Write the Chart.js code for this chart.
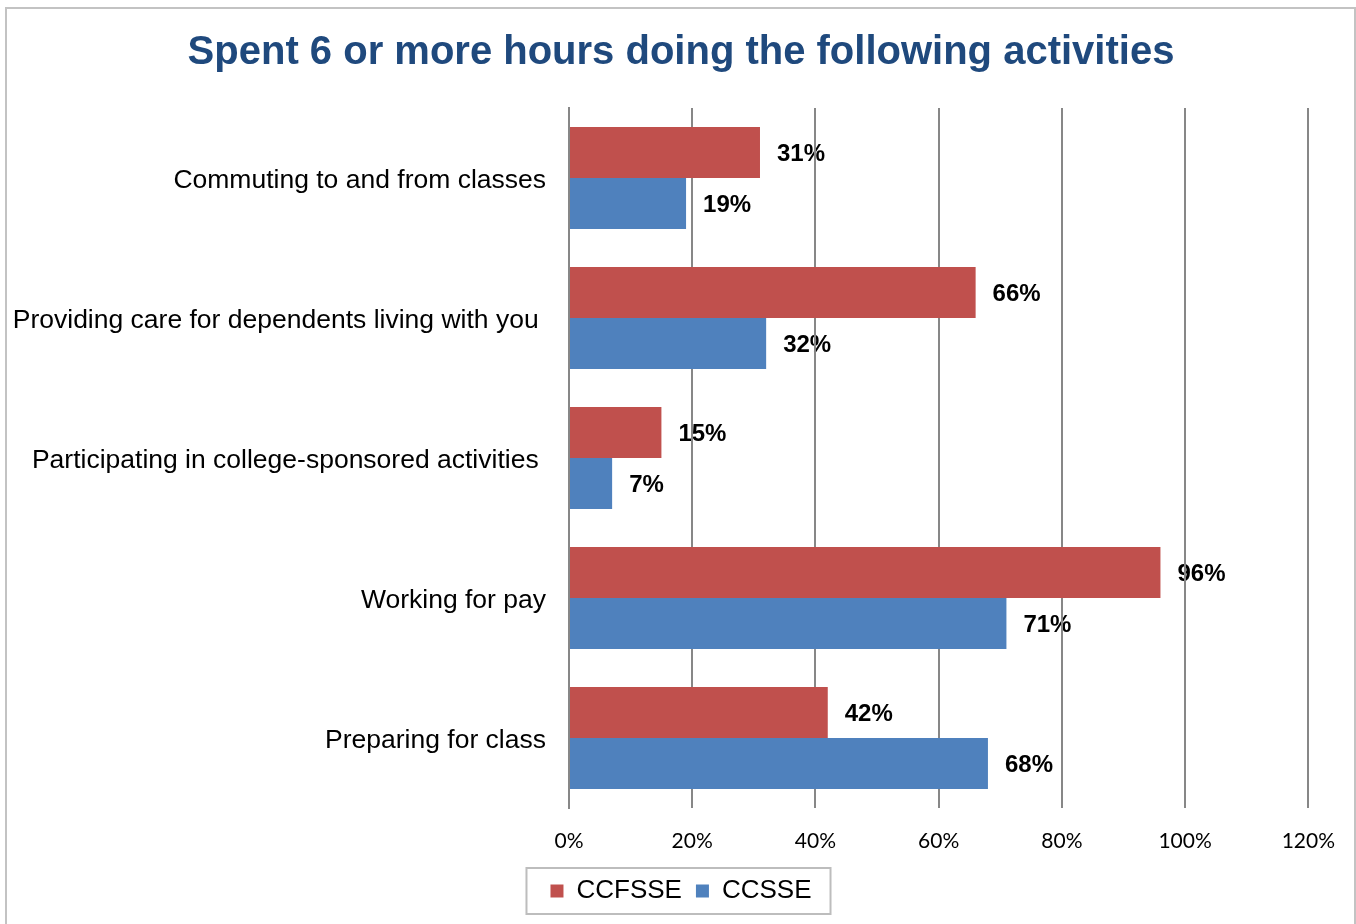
<!DOCTYPE html>
<html>
<head>
<meta charset="utf-8">
<title>Spent 6 or more hours doing the following activities</title>
<script src="https://cdn.jsdelivr.net/npm/chart.js@4/dist/chart.umd.min.js"></script>
<style>
  html, body { margin: 0; padding: 0; background: #fff; }
  #wrap { width: 1356px; height: 924px; position: relative; }
</style>
</head>
<body>
<div id="wrap"><canvas id="myChart" width="1356" height="924"></canvas></div>
<script>
// categories and series
const activities = [
  'Commuting to and from classes',
  'Providing care for dependents living with you ',
  'Participating in college-sponsored activities ',
  'Working for pay',
  'Preparing for class'
];
const ccfsse = [31, 66, 15, 96, 42];
const ccsse = [19, 32, 7, 71, 68];
const xTicks = [0, 20, 40, 60, 80, 100, 120];

const gridGray = '#878787';

// outer frame of the chart
const frame = {
  id: 'frame',
  beforeDraw(chart) {
    const ctx = chart.ctx;
    ctx.save();
    ctx.fillStyle = '#fff';
    ctx.fillRect(0, 0, chart.width, chart.height);
    ctx.strokeStyle = '#c3c3c3';
    ctx.lineWidth = 2;
    ctx.strokeRect(6, 8, 1349, 1000);
    ctx.restore();
  }
};

// percentage labels to the right of each bar (drawn under the grid lines)
const barLabels = {
  id: 'barLabels',
  beforeDraw(chart) {
    const ctx = chart.ctx;
    ctx.save();
    ctx.font = 'bold 24px "Liberation Sans", Arial, sans-serif';
    ctx.fillStyle = '#000';
    ctx.textAlign = 'left';
    ctx.textBaseline = 'middle';
    chart.data.datasets.forEach((ds, i) => {
      chart.getDatasetMeta(i).data.forEach((bar, j) => {
        ctx.fillText(ds.data[j] + '%', bar.x + 17, bar.y + 2);
      });
    });
    ctx.restore();
  }
};

// box around the legend
const legendBox = {
  id: 'legendBox',
  afterDraw(chart) {
    const hb = chart.legend.legendHitBoxes;
    if (!hb || !hb.length) return;
    const last = hb[hb.length - 1];
    const left = hb[0].left - 24;
    const right = last.left + last.width + 19;
    const cy = hb[0].top + hb[0].height / 2;
    const ctx = chart.ctx;
    ctx.save();
    ctx.strokeStyle = '#bdbdbd';
    ctx.lineWidth = 2;
    ctx.strokeRect(left, cy - 23, right - left, 46);
    ctx.restore();
  }
};

const data = {
  labels: activities,
  datasets: [
    {
      label: 'CCFSSE',
      data: ccfsse,
      backgroundColor: '#c0504d',
      categoryPercentage: 0.73,
      barPercentage: 1
    },
    {
      label: 'CCSSE',
      data: ccsse,
      backgroundColor: '#4f81bd',
      categoryPercentage: 0.73,
      barPercentage: 1
    }
  ]
};

const config = {
  type: 'bar',
  data,
  plugins: [frame, barLabels, legendBox],
  options: {
    indexAxis: 'y',
    responsive: false,
    animation: false,
    layout: { padding: { left: 6, right: 0, top: 8, bottom: 10 } },
    plugins: {
      title: {
        display: true,
        text: 'Spent 6 or more hours doing the following activities',
        color: '#1f497d',
        font: { family: '"Liberation Sans", Arial, sans-serif', size: 40, weight: 'bold' },
        padding: { top: 21, bottom: 31 }
      },
      legend: {
        position: 'bottom',
        labels: {
          color: '#000',
          boxWidth: 13,
          boxHeight: 13,
          padding: 14,
          font: { family: '"Liberation Sans", Arial, sans-serif', size: 26 }
        }
      },
      tooltip: { enabled: false }
    },
    scales: {
      x: {
        min: 0,
        max: 120,
        afterBuildTicks(scale) {
          scale.ticks = xTicks.map(v => ({ value: v }));
        },
        afterFit(scale) { scale.height = 56; },
        grid: { color: gridGray, lineWidth: 2, drawTicks: false },
        border: { display: false },
        ticks: {
          color: '#000',
          padding: 21,
          font: { family: 'Lato, "Open Sans", sans-serif', size: 21 },
          callback: v => v + '%'
        }
      },
      y: {
        grid: { display: false, drawTicks: false },
        border: { display: true, color: gridGray, width: 2 },
        afterFit(scale) { scale.width = 563; },
        ticks: {
          color: '#000',
          padding: 23,
          labelOffset: 2.5,
          font: { family: '"Liberation Sans", Arial, sans-serif', size: 26.5 }
        }
      },
      // empty strip on the right so the "120%" column ends inside the frame
      yRight: {
        type: 'category',
        position: 'right',
        grid: { display: false, drawTicks: false },
        border: { display: false },
        ticks: { display: false },
        afterFit(scale) { scale.width = 47; }
      }
    }
  }
};

const myChart = new Chart(document.getElementById('myChart'), config);
</script>
</body>
</html>
